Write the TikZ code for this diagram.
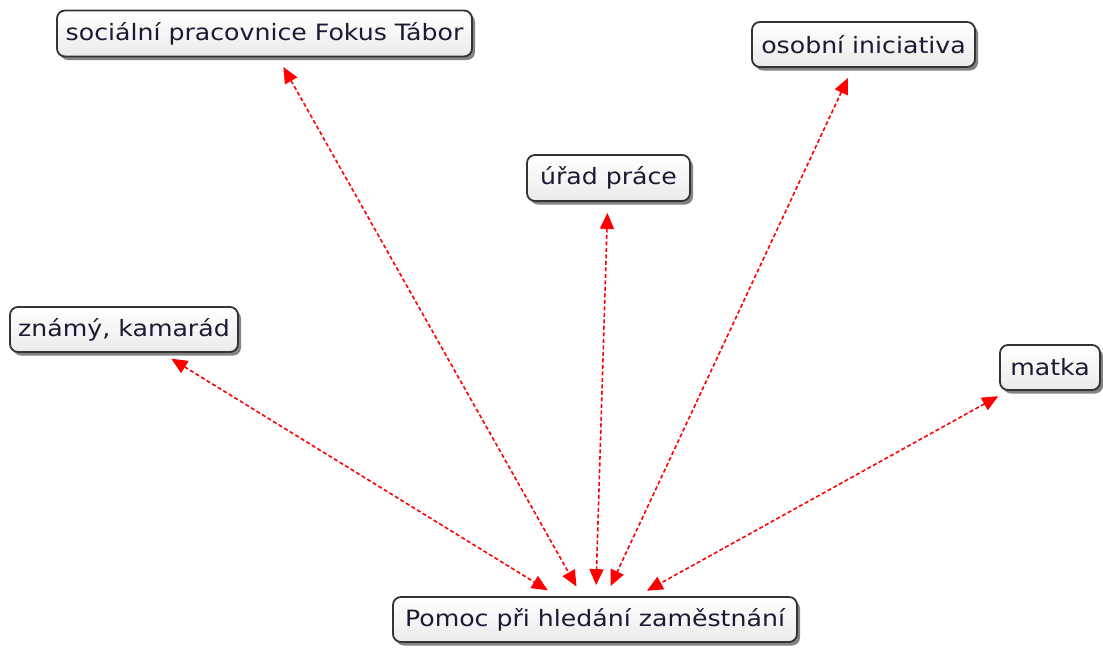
\documentclass[tikz,border=0pt]{standalone}
\usepackage{fontspec}
\setmainfont{DejaVu Sans}[FakeStretch=1.12]
\usetikzlibrary{arrows.meta,shadows}
\definecolor{boxline}{HTML}{333333}
\definecolor{labeltext}{HTML}{1A1A33}
\begin{document}
\begin{tikzpicture}[x=1pt,y=-1pt,
  topic/.style={draw=boxline, line width=1.8pt, rounded corners=8pt,
    top color=white, bottom color=gray!16, text=labeltext,
    font=\fontsize{22.5}{26}\selectfont, inner sep=0pt, anchor=center,
    drop shadow={shadow xshift=3pt, shadow yshift=-3.5pt, fill=black!65, opacity=0.75}},
  link/.style={draw=red, line width=1.6pt, dash pattern=on 4pt off 2.5pt,
    {Triangle[length=16pt,width=14pt]}-{Triangle[length=16pt,width=14pt]},
    shorten <=11pt, shorten >=11pt}]
  \useasboundingbox (0,0) rectangle (1103,648);
  \node[topic, minimum width=415pt, minimum height=46pt] (soc) at (264.5,33.5) {sociální pracovnice Fokus Tábor};
  \node[topic, minimum width=223pt, minimum height=45pt] (osob) at (863.5,44.5) {osobní iniciativa};
  \node[topic, minimum width=163pt, minimum height=46pt] (urad) at (608.5,178) {úřad práce};
  \node[topic, minimum width=228pt, minimum height=45pt] (znam) at (124,329.5) {známý, kamarád};
  \node[topic, minimum width=100pt, minimum height=45pt] (matka) at (1050,367.5) {matka};
  \node[topic, minimum width=404pt, minimum height=45pt] (help) at (595,619.5) {Pomoc při hledání zaměstnání};

  \draw[link] (soc) -- (help);
  \draw[link] (osob) -- (help);
  \draw[link] (urad) -- (help);
  \draw[link] (znam) -- (help);
  \draw[link] (matka) -- (help);
\end{tikzpicture}
\end{document}
